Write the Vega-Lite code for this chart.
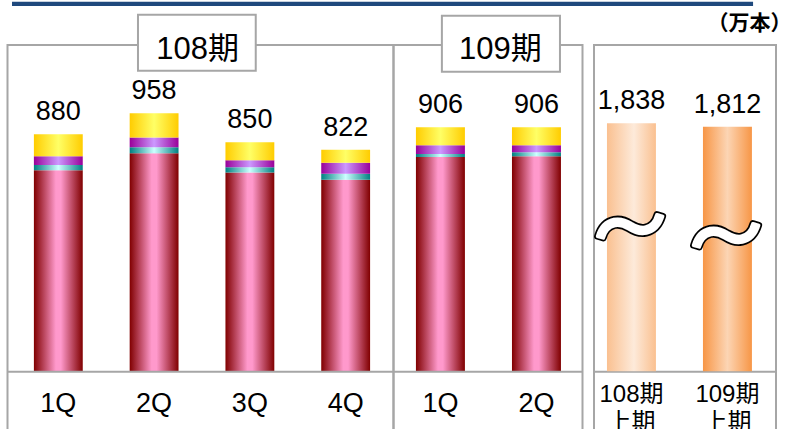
{
  "$schema": "https://vega.github.io/schema/vega-lite/v6.json",
  "padding": {"left": 6.5, "top": 0, "right": 0, "bottom": 0},
  "background": "white",
  "datasets": {
    "p108": [
      {"q": "1Q", "s": "pink", "order": 1, "value": 746},
      {"q": "1Q", "s": "teal", "order": 2, "value": 20},
      {"q": "1Q", "s": "purple", "order": 3, "value": 32},
      {"q": "1Q", "s": "yellow", "order": 4, "value": 82},
      {"q": "2Q", "s": "pink", "order": 1, "value": 809},
      {"q": "2Q", "s": "teal", "order": 2, "value": 22},
      {"q": "2Q", "s": "purple", "order": 3, "value": 37},
      {"q": "2Q", "s": "yellow", "order": 4, "value": 90},
      {"q": "3Q", "s": "pink", "order": 1, "value": 738},
      {"q": "3Q", "s": "teal", "order": 2, "value": 19},
      {"q": "3Q", "s": "purple", "order": 3, "value": 26},
      {"q": "3Q", "s": "yellow", "order": 4, "value": 67},
      {"q": "4Q", "s": "pink", "order": 1, "value": 711},
      {"q": "4Q", "s": "teal", "order": 2, "value": 22},
      {"q": "4Q", "s": "purple", "order": 3, "value": 41},
      {"q": "4Q", "s": "yellow", "order": 4, "value": 48}
    ],
    "p109": [
      {"q": "1Q", "s": "pink", "order": 1, "value": 795},
      {"q": "1Q", "s": "teal", "order": 2, "value": 11},
      {"q": "1Q", "s": "purple", "order": 3, "value": 33},
      {"q": "1Q", "s": "yellow", "order": 4, "value": 67},
      {"q": "2Q", "s": "pink", "order": 1, "value": 798},
      {"q": "2Q", "s": "teal", "order": 2, "value": 15},
      {"q": "2Q", "s": "purple", "order": 3, "value": 26},
      {"q": "2Q", "s": "yellow", "order": 4, "value": 67}
    ],
    "half": [
      {"p": "108期 上期", "value": 1838},
      {"p": "109期 上期", "value": 1812}
    ]
  },
  "hconcat": [
    {
      "width": 386,
      "height": 396,
      "data": {"name": "p108"},
      "encoding": {
        "x": {
          "field": "q", "type": "nominal",
          "scale": {"domain": ["1Q", "2Q", "3Q", "4Q"], "paddingInner": 0.49, "paddingOuter": 0.26, "align": 0.53},
          "axis": {"title": null, "labelAngle": 0, "orient": "bottom", "offset": -69.8, "ticks": false, "domainColor": "#A6A6A6", "domainWidth": 2, "labelFontSize": 27, "labelColor": "black", "labelPadding": 19}
        }
      },
      "layer": [
        {
          "data": {"values": [{}]},
          "mark": {"type": "rect", "color": "#1F497D"},
          "encoding": {
            "x": {"datum": "1Q", "type": "nominal", "bandPosition": -0.448},
            "x2": {"datum": "4Q", "bandPosition": 8.84},
            "y": {"datum": 1355.7, "type": "quantitative", "scale": {"domain": [-259, 1211]}, "axis": null},
            "y2": {"datum": 1371.6}
          }
        },
        {
          "data": {"values": [{"t": "108期"}]},
          "mark": {"type": "rect", "fill": "white", "stroke": "#A6A6A6", "strokeWidth": 2},
          "encoding": {
            "x": {"datum": "2Q", "type": "nominal", "bandPosition": 0.17},
            "x2": {"datum": "3Q", "bandPosition": 0.62},
            "y": {"datum": 1115, "type": "quantitative", "scale": {"domain": [-259, 1211]}, "axis": null},
            "y2": {"datum": 1323}
          }
        },
        {
          "data": {"values": [{"t": "108期"}]},
          "mark": {"type": "text", "fontSize": 31, "baseline": "alphabetic", "color": "black"},
          "encoding": {
            "x": {"datum": "2Q", "type": "nominal", "bandPosition": 1.39},
            "y": {"datum": 1160, "type": "quantitative", "scale": {"domain": [-259, 1211]}, "axis": null},
            "text": {"field": "t"}
          }
        },
        {
          "transform": [{"stack": "value", "groupby": ["q"], "sort": [{"field": "order", "order": "ascending"}], "as": ["v0", "v1"]}, {"filter": "datum.s == 'pink'"}],
          "mark": {"type": "bar", "color": {"gradient": "linear", "x1": 0, "y1": 0, "x2": 1, "y2": 0, "stops": [{"offset": 0, "color": "#800000"}, {"offset": 0.45, "color": "#FF99CC"}, {"offset": 0.55, "color": "#FF99CC"}, {"offset": 1, "color": "#800000"}]}},
          "encoding": {"y": {"field": "v0", "type": "quantitative", "scale": {"domain": [-259, 1211]}, "axis": null}, "y2": {"field": "v1"}}
        },
        {
          "transform": [{"stack": "value", "groupby": ["q"], "sort": [{"field": "order", "order": "ascending"}], "as": ["v0", "v1"]}, {"filter": "datum.s == 'teal'"}],
          "mark": {"type": "bar", "color": {"gradient": "linear", "x1": 0, "y1": 0, "x2": 1, "y2": 0, "stops": [{"offset": 0, "color": "#008080"}, {"offset": 0.5, "color": "#CCFFFF"}, {"offset": 1, "color": "#008080"}]}},
          "encoding": {"y": {"field": "v0", "type": "quantitative", "scale": {"domain": [-259, 1211]}, "axis": null}, "y2": {"field": "v1"}}
        },
        {
          "transform": [{"stack": "value", "groupby": ["q"], "sort": [{"field": "order", "order": "ascending"}], "as": ["v0", "v1"]}, {"filter": "datum.s == 'purple'"}],
          "mark": {"type": "bar", "color": {"gradient": "linear", "x1": 0, "y1": 0, "x2": 1, "y2": 0, "stops": [{"offset": 0, "color": "#990099"}, {"offset": 0.5, "color": "#CC99FF"}, {"offset": 1, "color": "#990099"}]}},
          "encoding": {"y": {"field": "v0", "type": "quantitative", "scale": {"domain": [-259, 1211]}, "axis": null}, "y2": {"field": "v1"}}
        },
        {
          "transform": [{"stack": "value", "groupby": ["q"], "sort": [{"field": "order", "order": "ascending"}], "as": ["v0", "v1"]}, {"filter": "datum.s == 'yellow'"}],
          "mark": {"type": "bar", "color": {"gradient": "linear", "x1": 0, "y1": 0, "x2": 1, "y2": 0, "stops": [{"offset": 0, "color": "#FFCC00"}, {"offset": 0.5, "color": "#FFFF66"}, {"offset": 1, "color": "#FFCC00"}]}},
          "encoding": {"y": {"field": "v0", "type": "quantitative", "scale": {"domain": [-259, 1211]}, "axis": null}, "y2": {"field": "v1"}}
        },
        {
          "mark": {"type": "text", "fontSize": 27, "baseline": "alphabetic", "dy": -14, "color": "black"},
          "encoding": {
            "y": {"aggregate": "sum", "field": "value", "type": "quantitative", "scale": {"domain": [-259, 1211]}, "axis": null},
            "yOffset": {"condition": {"test": "datum['sum_value'] == 958", "value": 13}, "value": 0},
            "text": {"aggregate": "sum", "field": "value", "type": "quantitative"}
          }
        }
      ]
    },
    {
      "spacing": 11.5,
      "bounds": "flush",
      "hconcat": [
        {
          "width": 189,
          "height": 396,
          "data": {"name": "p109"},
          "encoding": {
            "x": {
              "field": "q", "type": "nominal",
              "scale": {"domain": ["1Q", "2Q"], "paddingInner": 0.49, "paddingOuter": 0.229, "align": 0.51},
              "axis": {"title": null, "labelAngle": 0, "orient": "bottom", "offset": -69.8, "ticks": false, "domainColor": "#A6A6A6", "domainWidth": 2, "labelFontSize": 27, "labelColor": "black", "labelPadding": 19}
            }
          },
          "layer": [
            {
              "data": {"values": [{"t": "109期"}]},
              "mark": {"type": "rect", "fill": "white", "stroke": "#A6A6A6", "strokeWidth": 2},
              "encoding": {
                "x": {"datum": "1Q", "type": "nominal", "bandPosition": 0.53},
                "x2": {"datum": "2Q", "bandPosition": 0.98},
                "y": {"datum": 1112, "type": "quantitative", "scale": {"domain": [-259, 1211]}, "axis": null},
                "y2": {"datum": 1319.6}
              }
            },
            {
              "data": {"values": [{"t": "109期"}]},
              "mark": {"type": "text", "fontSize": 31, "baseline": "alphabetic", "color": "black"},
              "encoding": {
                "x": {"datum": "2Q", "type": "nominal", "bandPosition": -0.235},
                "y": {"datum": 1160, "type": "quantitative", "scale": {"domain": [-259, 1211]}, "axis": null},
                "text": {"field": "t"}
              }
            },
            {
              "transform": [{"stack": "value", "groupby": ["q"], "sort": [{"field": "order", "order": "ascending"}], "as": ["v0", "v1"]}, {"filter": "datum.s == 'pink'"}],
              "mark": {"type": "bar", "color": {"gradient": "linear", "x1": 0, "y1": 0, "x2": 1, "y2": 0, "stops": [{"offset": 0, "color": "#800000"}, {"offset": 0.45, "color": "#FF99CC"}, {"offset": 0.55, "color": "#FF99CC"}, {"offset": 1, "color": "#800000"}]}},
              "encoding": {"y": {"field": "v0", "type": "quantitative", "scale": {"domain": [-259, 1211]}, "axis": null}, "y2": {"field": "v1"}}
            },
            {
              "transform": [{"stack": "value", "groupby": ["q"], "sort": [{"field": "order", "order": "ascending"}], "as": ["v0", "v1"]}, {"filter": "datum.s == 'teal'"}],
              "mark": {"type": "bar", "color": {"gradient": "linear", "x1": 0, "y1": 0, "x2": 1, "y2": 0, "stops": [{"offset": 0, "color": "#008080"}, {"offset": 0.5, "color": "#CCFFFF"}, {"offset": 1, "color": "#008080"}]}},
              "encoding": {"y": {"field": "v0", "type": "quantitative", "scale": {"domain": [-259, 1211]}, "axis": null}, "y2": {"field": "v1"}}
            },
            {
              "transform": [{"stack": "value", "groupby": ["q"], "sort": [{"field": "order", "order": "ascending"}], "as": ["v0", "v1"]}, {"filter": "datum.s == 'purple'"}],
              "mark": {"type": "bar", "color": {"gradient": "linear", "x1": 0, "y1": 0, "x2": 1, "y2": 0, "stops": [{"offset": 0, "color": "#990099"}, {"offset": 0.5, "color": "#CC99FF"}, {"offset": 1, "color": "#990099"}]}},
              "encoding": {"y": {"field": "v0", "type": "quantitative", "scale": {"domain": [-259, 1211]}, "axis": null}, "y2": {"field": "v1"}}
            },
            {
              "transform": [{"stack": "value", "groupby": ["q"], "sort": [{"field": "order", "order": "ascending"}], "as": ["v0", "v1"]}, {"filter": "datum.s == 'yellow'"}],
              "mark": {"type": "bar", "color": {"gradient": "linear", "x1": 0, "y1": 0, "x2": 1, "y2": 0, "stops": [{"offset": 0, "color": "#FFCC00"}, {"offset": 0.5, "color": "#FFFF66"}, {"offset": 1, "color": "#FFCC00"}]}},
              "encoding": {"y": {"field": "v0", "type": "quantitative", "scale": {"domain": [-259, 1211]}, "axis": null}, "y2": {"field": "v1"}}
            },
            {
              "mark": {"type": "text", "fontSize": 27, "baseline": "alphabetic", "dy": -14, "color": "black"},
              "encoding": {
                "y": {"aggregate": "sum", "field": "value", "type": "quantitative", "scale": {"domain": [-259, 1211]}, "axis": null},
                "text": {"aggregate": "sum", "field": "value", "type": "quantitative"}
              }
            }
          ]
        },
        {
          "width": 182,
          "height": 396,
          "data": {"name": "half"},
          "encoding": {
            "x": {
              "field": "p", "type": "nominal",
              "scale": {"domain": ["108期 上期", "109期 上期"], "paddingInner": 0.49, "paddingOuter": 0.193, "align": 0.35},
              "axis": {"title": null, "labelAngle": 0, "orient": "bottom", "offset": -69.8, "ticks": false, "domainColor": "#A6A6A6", "domainWidth": 2, "labelFontSize": 24, "labelLineHeight": 28, "labelColor": "black", "labelPadding": 11, "labelExpr": "split(datum.label, ' ')"}
            }
          },
          "layer": [
            {
              "transform": [{"filter": "datum.p == '108期 上期'"}],
              "mark": {"type": "bar", "color": {"gradient": "linear", "x1": 0, "y1": 0, "x2": 1, "y2": 0, "stops": [{"offset": 0, "color": "#FAC090"}, {"offset": 0.55, "color": "#FDEADA"}, {"offset": 1, "color": "#FAC090"}]}},
              "encoding": {"y": {"field": "value", "type": "quantitative", "scale": {"domain": [-517, 2419]}, "axis": null}}
            },
            {
              "transform": [{"filter": "datum.p == '109期 上期'"}],
              "mark": {"type": "bar", "color": {"gradient": "linear", "x1": 0, "y1": 0, "x2": 1, "y2": 0, "stops": [{"offset": 0, "color": "#F79646"}, {"offset": 0.5, "color": "#FCD5B4"}, {"offset": 1, "color": "#F79646"}]}},
              "encoding": {"y": {"field": "value", "type": "quantitative", "scale": {"domain": [-517, 2419]}, "axis": null}}
            },
            {
              "transform": [{"filter": "datum.p == '108期 上期'"}],
              "mark": {"type": "text", "text": "〜", "font": "Noto Sans CJK JP", "fontSize": 74, "baseline": "middle", "fill": "black", "stroke": "black", "strokeWidth": 7, "strokeJoin": "round", "angle": -12},
              "encoding": {"y": {"datum": 1030, "type": "quantitative", "scale": {"domain": [-517, 2419]}, "axis": null}}
            },
            {
              "transform": [{"filter": "datum.p == '108期 上期'"}],
              "mark": {"type": "text", "text": "〜", "font": "Noto Sans CJK JP", "fontSize": 74, "baseline": "middle", "fill": "white", "stroke": "white", "strokeWidth": 3.5, "strokeJoin": "round", "angle": -12},
              "encoding": {"y": {"datum": 1030, "type": "quantitative", "scale": {"domain": [-517, 2419]}, "axis": null}}
            },
            {
              "transform": [{"filter": "datum.p == '109期 上期'"}],
              "mark": {"type": "text", "text": "〜", "font": "Noto Sans CJK JP", "fontSize": 74, "baseline": "middle", "fill": "black", "stroke": "black", "strokeWidth": 7, "strokeJoin": "round", "angle": -12},
              "encoding": {"y": {"datum": 963, "type": "quantitative", "scale": {"domain": [-517, 2419]}, "axis": null}}
            },
            {
              "transform": [{"filter": "datum.p == '109期 上期'"}],
              "mark": {"type": "text", "text": "〜", "font": "Noto Sans CJK JP", "fontSize": 74, "baseline": "middle", "fill": "white", "stroke": "white", "strokeWidth": 3.5, "strokeJoin": "round", "angle": -12},
              "encoding": {"y": {"datum": 963, "type": "quantitative", "scale": {"domain": [-517, 2419]}, "axis": null}}
            },
            {
              "mark": {"type": "text", "fontSize": 27, "baseline": "alphabetic", "dy": -14, "color": "black"},
              "encoding": {
                "y": {"field": "value", "type": "quantitative", "scale": {"domain": [-517, 2419]}, "axis": null},
                "text": {"field": "value", "type": "quantitative", "format": ","}
              }
            },
            {
              "data": {"values": [{"t": "（万本）"}]},
              "mark": {"type": "text", "fontSize": 21, "fontWeight": "bold", "baseline": "middle", "color": "black"},
              "encoding": {
                "x": {"datum": "109期 上期", "type": "nominal", "bandPosition": 0.95},
                "y": {"datum": 2573, "type": "quantitative", "scale": {"domain": [-517, 2419]}, "axis": null},
                "text": {"field": "t"}
              }
            }
          ]
        }
      ]
    }
  ],
  "spacing": 0,
  "bounds": "flush",
  "config": {
    "font": "Liberation Sans, Noto Sans CJK JP, sans-serif",
    "view": {"stroke": "#A6A6A6", "strokeWidth": 2},
    "axis": {"labelFont": "Liberation Sans, Noto Sans CJK JP, sans-serif", "grid": false},
    "text": {"font": "Liberation Sans, Noto Sans CJK JP, sans-serif"}
  }
}
